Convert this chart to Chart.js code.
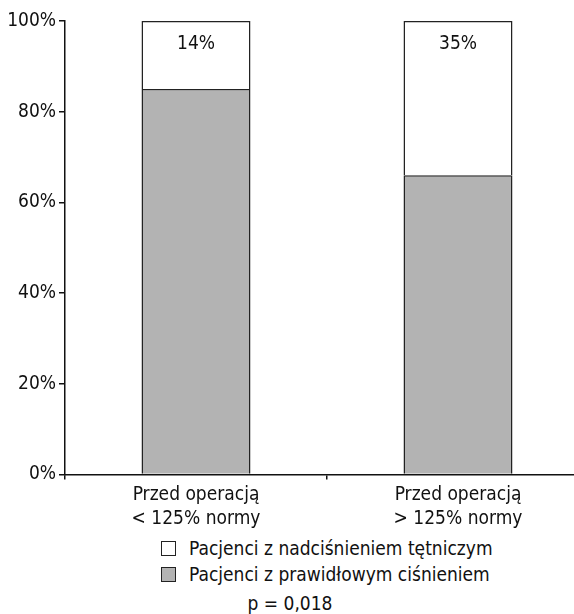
<!DOCTYPE html>
<html>
<head>
<meta charset="utf-8">
<script src="https://cdn.jsdelivr.net/npm/chart.js@4.4.0/dist/chart.umd.min.js"></script>
<style>
    html, body {
        margin: 0;
        padding: 0;
        background: #ffffff;
        width: 574px;
        height: 614px;
        overflow: hidden;
    }
    #wrap {
        position: relative;
        width: 592px;
        height: 535px;
    }
    .txt {
        font-family: "Liberation Sans Narrow", "DejaVu Sans Condensed", sans-serif;
        font-size: 19px;
        color: #111;
    }
    #legend {
        position: absolute;
        left: 161px;
        top: 535px;
    }
    .row {
        display: flex;
        align-items: center;
        height: 26px;
    }
    .box {
        width: 13px;
        height: 13px;
        border: 1px solid #222;
        margin-right: 13px;
    }
    #pval {
        position: absolute;
        left: 0;
        width: 580px;
        top: 592px;
        text-align: center;
    }
</style>
</head>
<body>

<div id="wrap"><canvas id="myChart" width="592" height="535"></canvas></div>
<div id="legend" class="txt"></div>
<div id="pval" class="txt">p = 0,018</div>

<script>

let categories = [
    ["Przed operacją", "< 125% normy"],
    ["Przed operacją", "> 125% normy"]
];

let hypertension = [15, 34];
let normalPressure = [85, 66];
let hypertensionLabels = ["14%", "35%"];

let yTicks = [0, 20, 40, 60, 80, 100];

let fontFamily = "'Liberation Sans Narrow', 'DejaVu Sans Condensed', sans-serif";

/* labels inside the white part of each bar */
let barLabels = {
    id: "barLabels",
    afterDatasetsDraw(chart) {
        let ctx = chart.ctx;
        let meta = chart.getDatasetMeta(1);
        ctx.save();
        ctx.font = "19px " + fontFamily;
        ctx.fillStyle = "#111";
        ctx.textAlign = "center";
        ctx.textBaseline = "middle";
        meta.data.forEach((bar, i) => {
            ctx.fillText(hypertensionLabels[i], bar.x, bar.y + 23);
        });
        ctx.restore();
    }
};

let ctx = document.getElementById("myChart").getContext("2d");

let chart = new Chart(ctx, {
    type: "bar",

    data: {
        labels: categories,
        datasets: [
            {
                label: "Pacjenci z prawidłowym ciśnieniem",
                data: normalPressure,
                backgroundColor: "#b3b3b3",
                borderColor: "#222",
                borderWidth: 1.5,
                barPercentage: 0.416,
                categoryPercentage: 1
            },
            {
                label: "Pacjenci z nadciśnieniem tętniczym",
                data: hypertension,
                backgroundColor: "#ffffff",
                borderColor: "#222",
                borderWidth: 1.5,
                barPercentage: 0.416,
                categoryPercentage: 1
            }
        ]
    },

    options: {
        responsive: false,
        animation: false,
        devicePixelRatio: 1,

        layout: {
            padding: { top: 21, right: 3, left: 0, bottom: 0 }
        },

        plugins: {
            legend: { display: false },
            tooltip: { enabled: false }
        },

        scales: {

            x: {
                stacked: true,
                ticks: {
                    color: "#111",
                    padding: 4,
                    font: { family: fontFamily, size: 19, lineHeight: 1.25 }
                },
                grid: {
                    offset: true,
                    drawOnChartArea: false,
                    tickLength: 5,
                    color: "#111",
                    lineWidth: 1.5
                },
                border: {
                    color: "#111",
                    width: 1.5
                }
            },

            y: {
                stacked: true,
                min: 0,
                max: 100,
                afterBuildTicks: axis => {
                    axis.ticks = yTicks.map(v => ({ value: v }));
                },
                afterFit: axis => {
                    axis.width = 65;
                },
                ticks: {
                    color: "#111",
                    padding: 3,
                    font: { family: fontFamily, size: 19 },
                    callback: v => v + "%"
                },
                grid: {
                    drawOnChartArea: false,
                    tickLength: 6,
                    color: "#111",
                    lineWidth: 1.5
                },
                border: {
                    color: "#111",
                    width: 1.5
                }
            }

        }
    },

    plugins: [barLabels]
});

/* Legend, white series first */
let legendEl = document.getElementById("legend");
[1, 0].forEach(i => {
    let ds = chart.data.datasets[i];
    let row = document.createElement("div");
    row.className = "row";
    let box = document.createElement("span");
    box.className = "box";
    box.style.background = ds.backgroundColor;
    let label = document.createElement("span");
    label.textContent = ds.label;
    row.appendChild(box);
    row.appendChild(label);
    legendEl.appendChild(row);
});

</script>
</body>
</html>
